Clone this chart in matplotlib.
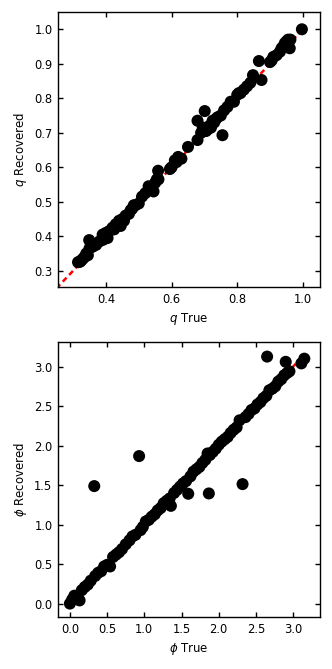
import numpy as np
import matplotlib
matplotlib.use("Agg")
import matplotlib.pyplot as plt

# mass ratio q: true vs recovered
q_true = [0.321, 0.315, 0.325, 0.33, 0.335, 0.34, 0.345, 0.349, 0.35, 0.36,
          0.37, 0.38, 0.39, 0.392, 0.395, 0.40, 0.405, 0.41, 0.42, 0.425,
          0.43, 0.44, 0.445, 0.45, 0.455, 0.46, 0.47, 0.475, 0.48, 0.485,
          0.49, 0.50, 0.51, 0.52, 0.53, 0.535, 0.545, 0.55, 0.555, 0.559,
          0.56, 0.595, 0.60, 0.61, 0.615, 0.62, 0.63, 0.65, 0.679, 0.679,
          0.69, 0.695, 0.701, 0.705, 0.71, 0.715, 0.72, 0.725, 0.73, 0.735,
          0.74, 0.75, 0.755, 0.76, 0.77, 0.78, 0.79, 0.80, 0.805, 0.81,
          0.82, 0.83, 0.84, 0.848, 0.866, 0.874, 0.90, 0.905, 0.91, 0.92,
          0.93, 0.935, 0.94, 0.945, 0.95, 0.955, 0.96, 0.962, 0.997]
q_rec = [0.326, 0.325, 0.33, 0.335, 0.34, 0.35, 0.345, 0.389, 0.365, 0.37,
         0.375, 0.385, 0.405, 0.39, 0.40, 0.41, 0.395, 0.415, 0.425, 0.42,
         0.435, 0.445, 0.43, 0.45, 0.445, 0.46, 0.465, 0.475, 0.48, 0.49,
         0.49, 0.495, 0.515, 0.525, 0.545, 0.535, 0.53, 0.555, 0.565, 0.59,
         0.565, 0.595, 0.60, 0.62, 0.615, 0.63, 0.625, 0.659, 0.735, 0.679,
         0.70, 0.715, 0.763, 0.705, 0.71, 0.72, 0.715, 0.735, 0.73, 0.74,
         0.745, 0.75, 0.693, 0.765, 0.775, 0.79, 0.79, 0.81, 0.815, 0.815,
         0.825, 0.835, 0.845, 0.867, 0.908, 0.853, 0.905, 0.91, 0.92, 0.925,
         0.935, 0.945, 0.95, 0.96, 0.965, 0.97, 0.945, 0.97, 1.0]

# phase phi: true vs recovered
phi_true = [0.0, 0.03, 0.06, 0.1, 0.13, 0.16, 0.2, 0.24, 0.28, 0.327,
            0.34, 0.38, 0.42, 0.46, 0.5, 0.54, 0.58, 0.62, 0.66, 0.7,
            0.75, 0.8, 0.84, 0.88, 0.93, 0.95, 0.98, 1.02, 1.06, 1.1,
            1.14, 1.18, 1.22, 1.26, 1.3, 1.34, 1.357, 1.4, 1.44, 1.48,
            1.52, 1.56, 1.59, 1.62, 1.66, 1.7, 1.74, 1.78, 1.82, 1.85,
            1.867, 1.88, 1.92, 1.96, 2.0, 2.04, 2.08, 2.12, 2.16, 2.2,
            2.24, 2.28, 2.32, 2.36, 2.4, 2.44, 2.48, 2.52, 2.56, 2.6,
            2.64, 2.65, 2.68, 2.72, 2.76, 2.8, 2.84, 2.88, 2.9, 2.92,
            2.95, 3.11, 3.15]
phi_rec = [0.0, 0.05, 0.1, 0.08, 0.04, 0.17, 0.21, 0.24, 0.29, 1.487,
           0.35, 0.39, 0.41, 0.47, 0.49, 0.47, 0.59, 0.62, 0.65, 0.69,
           0.75, 0.8, 0.85, 0.87, 1.867, 0.93, 0.97, 1.04, 1.06, 1.1,
           1.13, 1.18, 1.21, 1.27, 1.3, 1.33, 1.237, 1.4, 1.44, 1.48,
           1.52, 1.55, 1.39, 1.61, 1.67, 1.7, 1.73, 1.78, 1.82, 1.9,
           1.394, 1.88, 1.92, 1.96, 2.01, 2.05, 2.08, 2.11, 2.16, 2.2,
           2.23, 2.32, 1.512, 2.36, 2.4, 2.45, 2.47, 2.52, 2.55, 2.6,
           2.63, 3.126, 2.7, 2.72, 2.75, 2.81, 2.84, 2.89, 3.06, 2.92,
           2.94, 3.04, 3.1]


def style(ax):
    ax.tick_params(direction="in", top=True, right=True, length=3.5,
                   width=1.0, labelsize=8.3, pad=4)
    for s in ax.spines.values():
        s.set_linewidth(1.0)


fig = plt.figure(figsize=(3.32, 6.69), dpi=100)

ax1 = fig.add_axes([0.1747, 0.571, 0.789, 0.411])
ax1.plot([0.0, 1.0], [0.0, 1.0], color="red", lw=1.8, dashes=(2.2, 1.5), zorder=1)
ax1.scatter(q_true, q_rec, s=75, color="black", edgecolors="none", zorder=2)
ax1.set_xlim(0.254, 1.052)
ax1.set_ylim(0.253, 1.05)
ax1.set_xticks([0.4, 0.6, 0.8, 1.0])
ax1.set_yticks([0.3, 0.4, 0.5, 0.6, 0.7, 0.8, 0.9, 1.0])
ax1.set_xlabel("$q$ True", fontsize=8.5)
ax1.set_ylabel("$q$ Recovered", fontsize=8.5)
style(ax1)

ax2 = fig.add_axes([0.1747, 0.0777, 0.789, 0.411])
ax2.plot([0.0, np.pi], [0.0, np.pi], color="red", lw=1.8, dashes=(2.2, 1.5), zorder=1)
ax2.scatter(phi_true, phi_rec, s=75, color="black", edgecolors="none", zorder=2)
ax2.set_xlim(-0.16, 3.36)
ax2.set_ylim(-0.17, 3.31)
ax2.set_xticks([0.0, 0.5, 1.0, 1.5, 2.0, 2.5, 3.0])
ax2.set_yticks([0.0, 0.5, 1.0, 1.5, 2.0, 2.5, 3.0])
ax2.set_xlabel(r"$\phi$ True", fontsize=8.5)
ax2.set_ylabel(r"$\phi$ Recovered", fontsize=8.5)
style(ax2)

fig.savefig("out.png", dpi=100)
